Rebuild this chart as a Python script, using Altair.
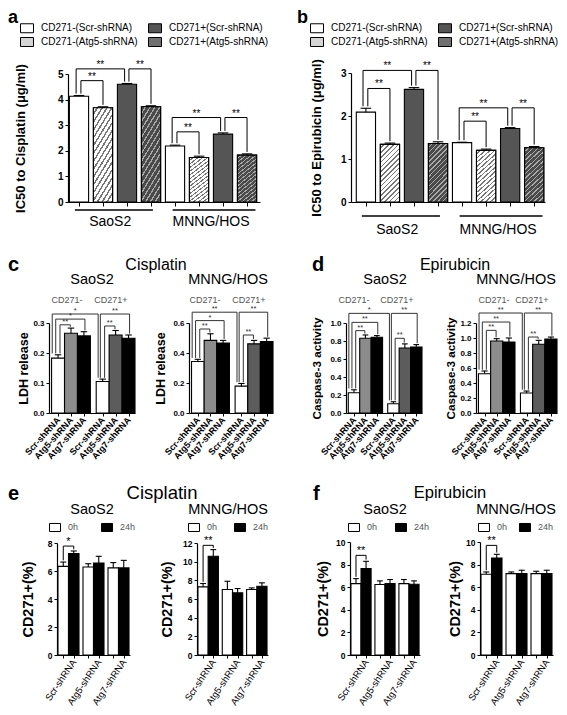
import altair as alt
import pandas as pd

# ======================= DATA =======================
# a, b : IC50 values
ab_series = ["CD271-(Scr-shRNA)", "CD271-(Atg5-shRNA)", "CD271+(Scr-shRNA)", "CD271+(Atg5-shRNA)"]
ab_cells = ["SaoS2", "MNNG/HOS"]
a_ic50 = [4.13, 3.68, 4.60, 3.72, 2.19, 1.74, 2.65, 1.83]
a_err = [0.03, 0.04, 0.03, 0.04, 0.03, 0.05, 0.05, 0.05]
b_ic50 = [2.09, 1.34, 2.62, 1.36, 1.38, 1.20, 1.71, 1.26]
b_err = [0.09, 0.03, 0.04, 0.04, 0.01, 0.03, 0.02, 0.03]
# significance brackets: (from bar, to bar, level, label)
a_sig = [(0, 2, 5.2, "**"), (0, 1, 4.74, "**"), (2, 3, 5.2, "**"),
         (4, 6, 3.3, "**"), (4, 5, 2.74, "**"), (6, 7, 3.3, "**")]
b_sig = [(0, 2, 3.06, "**"), (0, 1, 2.64, "**"), (2, 3, 3.06, "**"),
         (4, 6, 2.19, "**"), (4, 5, 1.88, "**"), (6, 7, 2.19, "**")]

# c, d : LDH release / Caspase-3 activity
shrna = ["Scr-shRNA", "Atg5-shRNA", "Atg7-shRNA"]
cd271 = ["CD271-", "CD271+"]
c_saos2 = [0.183, 0.266, 0.257, 0.105, 0.260, 0.249]
c_saos2_err = [0.011, 0.017, 0.014, 0.008, 0.015, 0.011]
c_mnng = [0.343, 0.484, 0.466, 0.179, 0.461, 0.477]
c_mnng_err = [0.015, 0.044, 0.018, 0.018, 0.023, 0.022]
d_saos2 = [0.225, 0.830, 0.841, 0.103, 0.723, 0.734]
d_saos2_err = [0.033, 0.037, 0.019, 0.022, 0.045, 0.026]
d_mnng = [0.524, 0.960, 0.947, 0.267, 0.916, 0.987]
d_mnng_err = [0.036, 0.031, 0.053, 0.026, 0.053, 0.026]
c_saos2_sig = [(0, 3, 0.330, "*"), (0, 2, 0.313, "*"), (0, 1, 0.294, "**"), (3, 5, 0.330, "**"), (3, 4, 0.290, "**")]
c_mnng_sig = [(0, 3, 0.672, "**"), (0, 2, 0.616, "*"), (0, 1, 0.560, "**"), (3, 5, 0.672, "**"), (3, 4, 0.520, "**")]
d_saos2_sig = [(0, 3, 1.107, "*"), (0, 2, 1.007, "**"), (0, 1, 0.915, "**"), (3, 5, 1.107, "**"), (3, 4, 0.830, "**")]
d_mnng_sig = [(0, 3, 1.333, "**"), (0, 2, 1.213, "**"), (0, 1, 1.102, "**"), (3, 5, 1.333, "**"), (3, 4, 1.013, "**")]

# e, f : CD271+ (%)
times = ["0h", "24h"]
e_saos2_0h = [6.33, 6.29, 6.22]
e_saos2_0h_err = [0.31, 0.23, 0.38]
e_saos2_24h = [7.24, 6.57, 6.22]
e_saos2_24h_err = [0.19, 0.48, 0.54]
e_mnng_0h = [7.30, 7.01, 7.01]
e_mnng_0h_err = [0.36, 0.89, 0.18]
e_mnng_24h = [10.58, 6.66, 7.37]
e_mnng_24h_err = [0.71, 0.46, 0.36]
f_saos2_0h = [6.32, 6.24, 6.32]
f_saos2_0h_err = [0.44, 0.32, 0.36]
f_saos2_24h = [7.65, 6.32, 6.26]
f_saos2_24h_err = [0.64, 0.36, 0.30]
f_mnng_0h = [7.15, 7.20, 7.20]
f_mnng_0h_err = [0.20, 0.15, 0.21]
f_mnng_24h = [8.59, 7.20, 7.20]
f_mnng_24h_err = [0.32, 0.30, 0.30]
e_saos2_sig = [(0, 1, 7.78, "*")]
e_mnng_sig = [(0, 1, 11.75, "**")]
f_saos2_sig = [(0, 1, 8.82, "**")]
f_mnng_sig = [(0, 1, 9.70, "**")]

# ======================= STYLE / LAYOUT =======================
FONT = "Liberation Sans"
W, H = 551, 699


def hatch(bg, line, n=16, frac=0.35):
    stops = []
    for k in range(n):
        a = round(k / n, 4)
        b = round((k + 1 - frac) / n, 4)
        c = round((k + 1) / n, 4)
        stops += [{"offset": a, "color": bg}, {"offset": b, "color": bg},
                  {"offset": b, "color": line}, {"offset": c, "color": line}]
    return {"gradient": "linear", "x1": 0, "y1": 0, "x2": 0.4, "y2": 1.2, "stops": stops}


LIGHT_HATCH = hatch("#ffffff", "#777777")
DARK_HATCH = hatch("#4a4a4a", "#a8a8a8", frac=0.3)

RECT_WIDE = "M-1,-0.69H1V0.69H-1Z"
RECT_SMALL = "M-1,-0.73H1V0.73H-1Z"


def panel(pos, vals, errs, keys, xdom, xr, ydom, yr, yticks, yfmt, ytitle, title_dx, title_size,
          cdom, crange, hw, cap, x_axis, ylab_size, sig, sig_off, sig_size, sig_color,
          legend=None, hatches=()):
    df = pd.DataFrame({"pos": pos, "val": vals, "err": errs, "key": keys})
    xs = alt.Scale(domain=xdom, range=xr, nice=False, zero=False)
    ys = alt.Scale(domain=ydom, range=yr, nice=False, zero=False)
    yaxis = alt.Axis(orient="left", offset=-xr[0], values=yticks, format=yfmt,
                     title=ytitle, titleX=title_dx, titleBaseline="middle", titleAngle=270,
                     titleFont=FONT, titleFontSize=title_size, titleFontWeight="bold", titleColor="black",
                     labelFont=FONT, labelFontSize=ylab_size, labelFontWeight="bold", labelColor="black",
                     labelPadding=2, labelFlush=False, labelOverlap=False,
                     tickSize=3, tickColor="black", tickWidth=1, domainColor="black", domainWidth=1.2,
                     grid=False)
    out = []
    base = alt.Chart(df).transform_calculate(
        xa=f"datum.pos - {hw}", xb=f"datum.pos + {hw}", base="0",
        top="datum.val + datum.err", ca=f"datum.pos - {cap}", cb=f"datum.pos + {cap}")
    out.append(base.mark_bar(stroke="black", strokeWidth=1.1).encode(
        x=alt.X("xa:Q", scale=xs, axis=x_axis), x2="xb:Q",
        y=alt.Y("val:Q", scale=ys, axis=yaxis), y2="base:Q",
        fill=alt.Fill("key:N", scale=alt.Scale(domain=cdom, range=crange), legend=legend)))
    for k, grad in hatches:
        out.append(base.transform_filter(alt.datum.key == k).mark_bar(
            fill=grad, stroke="black", strokeWidth=1.1).encode(
            x=alt.X("xa:Q", scale=xs, axis=None), x2="xb:Q",
            y=alt.Y("val:Q", scale=ys, axis=None), y2="base:Q"))
    out.append(base.mark_rule(color="black", strokeWidth=1.1).encode(
        x=alt.X("pos:Q", scale=xs, axis=None),
        y=alt.Y("val:Q", scale=ys, axis=None), y2="top:Q"))
    out.append(base.mark_rule(color="black", strokeWidth=1.1).encode(
        x=alt.X("ca:Q", scale=xs, axis=None), x2="cb:Q",
        y=alt.Y("top:Q", scale=ys, axis=None)))
    # significance brackets
    gap = ydom[1] * 0.015
    rows = []
    for (i, j, lvl, lab) in sig:
        dl, dr = sig_off[j - i]
        rows.append({"x1": pos[i] + dl, "x2": pos[j] + dr, "lvl": lvl,
                     "yl": vals[i] + errs[i] + gap, "yr": vals[j] + errs[j] + gap, "lab": lab})
    sdf = pd.DataFrame(rows)
    sb = alt.Chart(sdf)
    out.append(sb.mark_rule(color=sig_color, strokeWidth=1).encode(
        x=alt.X("x1:Q", scale=xs, axis=None), x2="x2:Q",
        y=alt.Y("lvl:Q", scale=ys, axis=None)))
    out.append(sb.mark_rule(color=sig_color, strokeWidth=1).encode(
        x=alt.X("x1:Q", scale=xs, axis=None),
        y=alt.Y("yl:Q", scale=ys, axis=None), y2="lvl:Q"))
    out.append(sb.mark_rule(color=sig_color, strokeWidth=1).encode(
        x=alt.X("x2:Q", scale=xs, axis=None),
        y=alt.Y("yr:Q", scale=ys, axis=None), y2="lvl:Q"))
    out.append(sb.transform_calculate(xm="(datum.x1 + datum.x2) / 2").mark_text(
        font=FONT, fontSize=sig_size, color=sig_color, baseline="alphabetic", dy=-1).encode(
        x=alt.X("xm:Q", scale=xs, axis=None), y=alt.Y("lvl:Q", scale=ys, axis=None), text="lab:N"))
    return out, xs


def label(txt, x, y, size, weight="normal", color="black", align="center", baseline="middle"):
    return alt.Chart(pd.DataFrame({"t": [txt]})).mark_text(
        font=FONT, fontSize=size, fontWeight=weight, color=color, align=align, baseline=baseline
    ).encode(x=alt.value(x), y=alt.value(y), text="t:N")


layers = []

# ---------------- panels a, b ----------------
pos_ab = list(range(8))
ab_keys = ab_series * 2
ab_colors = ["#ffffff", "#d4d4d4", "#555555", "#707070"]
ab_off = {1: (0.08, 0.0), 2: (-0.12, -0.1)}
ab_group_line = {"g1": [-0.17, 3.9], "g2": [3.08, 7.35], "gm": [1.3, 5.5]}


def ab_panel(vals, errs, sig, xr, xdom, yr, ydom, yticks, ytitle, title_dx, legx, line_y, text_y):
    x_axis = alt.Axis(orient="bottom", offset=yr[0] - H, values=pos_ab, labels=False, tickSize=4,
                      tickColor="black", domainColor="black", domainWidth=1.2, grid=False, title=None)
    legend = alt.Legend(orient="none", legendX=legx, legendY=13, columns=2, title=None,
                        symbolType=RECT_WIDE, symbolSize=169, symbolStrokeColor="black",
                        symbolStrokeWidth=1, labelFont=FONT, labelFontSize=10, labelColor="black",
                        labelOffset=7, columnPadding=8, rowPadding=-2, padding=0)
    out, xs = panel(pos_ab, vals, errs, ab_keys, xdom, xr, ydom, yr, yticks, "d", ytitle, title_dx, 13,
                    ab_series, ab_colors, 0.4, 0.22, x_axis, 10, sig, ab_off, 10, "black",
                    legend=legend, hatches=[(ab_series[1], LIGHT_HATCH), (ab_series[3], DARK_HATCH)])
    gdf = pd.DataFrame({"cell": ab_cells, **ab_group_line})
    out.append(alt.Chart(gdf).mark_rule(color="black", strokeWidth=1.3).encode(
        x=alt.X("g1:Q", scale=xs, axis=None), x2="g2:Q", y=alt.value(line_y)))
    out.append(alt.Chart(gdf).mark_text(font=FONT, fontSize=14, color="black").encode(
        x=alt.X("gm:Q", scale=xs, axis=None), y=alt.value(text_y), text="cell:N"))
    return out


layers += ab_panel(a_ic50, a_err, a_sig, [60, 252], [-0.458, 7.54], [194, 66], [0, 5],
                   [0, 1, 2, 3, 4, 5], "IC50 to Cisplatin (μg/ml)", -48, 12, 202, 214)
layers += ab_panel(b_ic50, b_err, b_sig, [343, 537], [-0.62, 7.45], [194, 65], [0, 3],
                   [0, 1, 2, 3], "IC50 to Epirubicin (μg/ml)", -35, 302, 208, 222)

# ---------------- panels c, d ----------------
pos_cd = [0, 1, 2, 3.45, 4.45, 5.45]
cd_keys = [f"{c}|{s}" for c in cd271 for s in shrna]
cd_colors = ["#ffffff", "#8c8c8c", "#000000", "#ffffff", "#5c5c5c", "#000000"]
cd_off = {1: (0.15, -0.05), 2: (-0.18, 0.08), 3: (-0.45, -0.35)}
names_js = "[" + ",".join(f"'{s}'" for s in shrna) + "]"
cd_label_expr = f"{names_js}[datum.value < 3 ? round(datum.value) : round(datum.value - 3.45)]"


def cd_panel(vals, errs, sig, xr, ydom, yticks, ytitle, title_dx, title_size):
    yr = [405, 315]
    x_axis = alt.Axis(orient="bottom", offset=yr[0] - H, values=pos_cd, labelExpr=cd_label_expr,
                      labelAngle=-48, labelAlign="right", labelBaseline="middle",
                      labelFont=FONT, labelFontSize=9, labelFontWeight="bold", labelColor="black",
                      labelPadding=2, labelFlush=False, labelOverlap=False,
                      tickSize=3, tickColor="black", domainColor="black", domainWidth=1.2,
                      grid=False, title=None)
    out, _ = panel(pos_cd, vals, errs, cd_keys, [-0.7, 5.95], xr, ydom, yr, yticks, ".1f", ytitle,
                   title_dx, title_size, cd_keys, cd_colors, 0.5, 0.25, x_axis, 8, sig, cd_off, 7.5,
                   "#333333")
    return out


layers += cd_panel(c_saos2, c_saos2_err, c_saos2_sig, [41, 127], [0, 0.3], [0, 0.1, 0.2, 0.3],
                   "LDH release", -26, 12.5)
layers += cd_panel(c_mnng, c_mnng_err, c_mnng_sig, [181, 265], [0, 0.6], [0, 0.2, 0.4, 0.6],
                   "LDH release", -29, 12.5)
layers += cd_panel(d_saos2, d_saos2_err, d_saos2_sig, [338, 414], [0, 1.0],
                   [0, 0.2, 0.4, 0.6, 0.8, 1.0], "Caspase-3 activity", -30, 11.7)
layers += cd_panel(d_mnng, d_mnng_err, d_mnng_sig, [468, 549], [0, 1.2],
                   [0, 0.2, 0.4, 0.6, 0.8, 1.0, 1.2], "Caspase-3 activity", -26, 11.7)

# ---------------- panels e, f ----------------
pos_ef = [-0.21, 0.21, 0.79, 1.21, 1.79, 2.21]
ef_keys = times * 3
ef_off = {1: (0.0, 0.0)}
ef_label_expr = (f"abs(datum.value - round(datum.value) - 0.21) < 0.01 ? "
                 f"{names_js}[round(datum.value)] : ''")


def interleave(a, b):
    out = []
    for u, v in zip(a, b):
        out += [u, v]
    return out


def ef_panel(v0, e0, v24, e24, sig, xr, yr, ydom, yticks, title_dx, legx, legpad):
    x_axis = alt.Axis(orient="bottom", offset=yr[0] - H, values=pos_ef, labelExpr=ef_label_expr,
                      labelAngle=-56, labelAlign="right", labelBaseline="middle",
                      labelFont=FONT, labelFontSize=9.5, labelColor="black",
                      labelPadding=2, labelFlush=False, labelOverlap=False,
                      tickSize=3, tickColor="black", domainColor="black", domainWidth=1.2,
                      grid=False, title=None)
    legend = alt.Legend(orient="none", legendX=legx, legendY=513, direction="horizontal", title=None,
                        symbolType=RECT_SMALL, symbolSize=121, symbolStrokeColor="black",
                        symbolStrokeWidth=1, labelFont=FONT, labelFontSize=9, labelColor="#555555",
                        labelOffset=7, columnPadding=legpad, padding=0)
    out, _ = panel(pos_ef, interleave(v0, v24), interleave(e0, e24), ef_keys, [-0.46, 2.46], xr,
                   ydom, yr, yticks, "d", "CD271+(%)", title_dx, 14.5, times, ["#ffffff", "#000000"],
                   0.21, 0.12, x_axis, 8.5, sig, ef_off, 11, "black", legend=legend)
    return out


layers += ef_panel(e_saos2_0h, e_saos2_0h_err, e_saos2_24h, e_saos2_24h_err, e_saos2_sig,
                   [49, 122], [647, 535], [0, 8], [0, 2, 4, 6, 8], -29, 41, 20)
layers += ef_panel(e_mnng_0h, e_mnng_0h_err, e_mnng_24h, e_mnng_24h_err, e_mnng_sig,
                   [189, 260], [647, 535], [0, 12], [0, 2, 4, 6, 8, 10, 12], -30, 180, 14)
layers += ef_panel(f_saos2_0h, f_saos2_0h_err, f_saos2_24h, f_saos2_24h_err, f_saos2_sig,
                   [342, 412], [647, 534], [0, 10], [0, 2, 4, 6, 8, 10], -27, 340, 15)
layers += ef_panel(f_mnng_0h, f_mnng_0h_err, f_mnng_24h, f_mnng_24h_err, f_mnng_sig,
                   [472, 545], [647, 534], [0, 10], [0, 2, 4, 6, 8, 10], -25, 470, 9)

# ---------------- headings ----------------
for txt, x, y in [("a", 0, 1), ("b", 289, 1)]:
    layers.append(label(txt, x, y, 18, weight="bold", align="left", baseline="top"))
for txt, x, y in [("c", 0, 263), ("d", 304, 263), ("e", 0, 492), ("f", 305, 492)]:
    layers.append(label(txt, x, y, 20, weight="bold", align="left", baseline="alphabetic"))
layers.append(label("Cisplatin", 148, 257, 16))
layers.append(label("Epirubicin", 447, 257, 16))
layers.append(label("Cisplatin", 154, 485, 18.5))
layers.append(label("Epirubicin", 442, 485, 16.5))
for y in (272, 502):
    layers.append(label("SaoS2", 84, y, 14.5))
    layers.append(label("MNNG/HOS", 220, y, 14.5))
    layers.append(label("SaoS2", 377, y, 14.5))
    layers.append(label("MNNG/HOS", 508, y, 14.5))
for x, t in [(59, 0), (103, 1), (197, 0), (241, 1), (346, 0), (389, 1), (486, 0), (524, 1)]:
    layers.append(label(cd271[t], x, 292, 9, color="#555555"))

chart = alt.layer(*layers).resolve_scale(
    x="independent", y="independent", fill="independent"
).properties(
    width=W, height=H, autosize=alt.AutoSizeParams(type="none"), padding=0
).configure_view(strokeWidth=0)

chart.save("out.html", embed_options={"renderer": "svg", "actions": False})
